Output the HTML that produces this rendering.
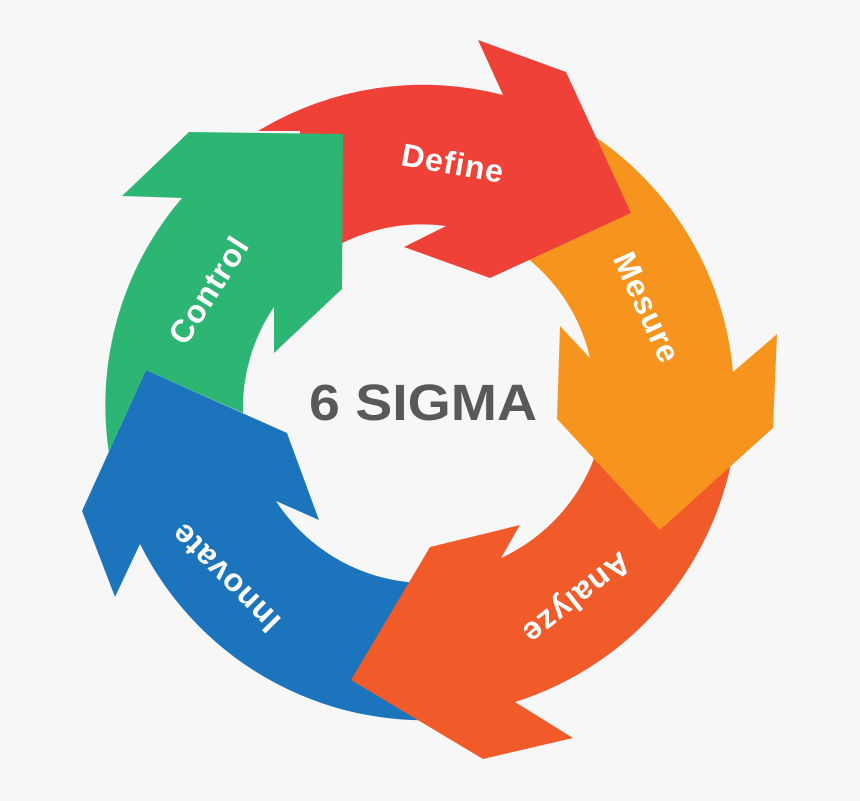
<!DOCTYPE html>
<html><head><meta charset="utf-8"><style>
html,body{margin:0;padding:0;background:#f7f7f7;}
svg{display:block;}
text{font-family:"Liberation Sans",Arial,sans-serif;font-weight:bold;}
</style></head><body>
<svg width="860" height="801" viewBox="0 0 860 801" xmlns="http://www.w3.org/2000/svg">
<rect width="860" height="801" fill="#f7f7f7"/>
<path fill="#1c75bc" d="M146 370 L287 433 L319 520 L276 501 A180 180 0 0 0 460 580 L470 717 A318 318 0 0 1 140 544 L115 597 L82 511 Z"/>
<path fill="#f15a29" d="M735 440 A318 318 0 0 1 515 702 L573 738 L483 759 L351 680 L430 547 L520 525 L501 558 A180 180 0 0 0 598 447 Z"/>
<path fill="#f7941e" d="M560 116 A318 318 0 0 1 733 372 L777 334 L773 428 L660 530 L557 419 L560 326 L590 358 A180 180 0 0 0 500 240 Z"/>
<path fill="#ef4138" d="M258 131 A318 318 0 0 1 503 95 L478 40 L566 72 L631 213 L490 278 L404 247 L446 226 A180 180 0 0 0 300 272 L300 131 Z"/>
<path fill="#2db573" d="M189 132 L343 134 L342 289 L274 353 L274 307 A180 180 0 0 0 243 413 L146 370 L108.8 452 A318 318 0 0 1 182 198 L122 196 Z"/>

<g fill="#ffffff" font-size="32" text-anchor="middle" letter-spacing="1">
<text transform="translate(451,174) rotate(10)">Define</text>
<text transform="translate(637,312) rotate(65.5)">Mesure</text>
<text transform="translate(570,590) rotate(141.7)">Analyze</text>
<text transform="translate(233,570) rotate(225)">Innovate</text>
<text transform="translate(218,296) rotate(-57.5)">Control</text>
</g>
<text x="423" y="420" font-size="51" fill="#58595b" text-anchor="middle" textLength="228" lengthAdjust="spacingAndGlyphs">6 SIGMA</text>
</svg>
</body></html>
